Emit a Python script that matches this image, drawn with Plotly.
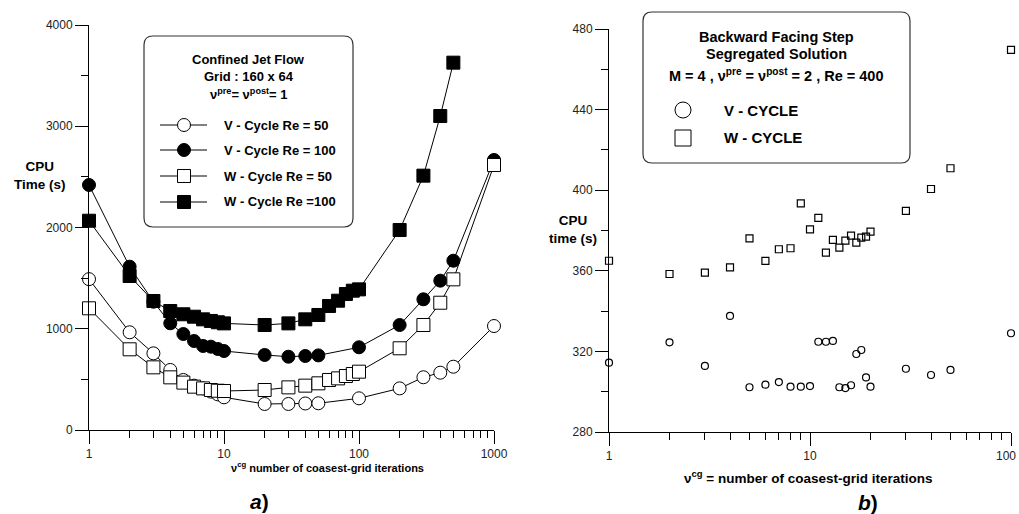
import plotly.graph_objects as go

W, H = 1019, 514
FONT = "Liberation Sans, Arial, sans-serif"

# ---------------- data: panel a) Confined Jet Flow ----------------
x_v = [1, 2, 3, 4, 5, 6, 7, 8, 9, 10, 20, 30, 40, 50, 100, 200, 300, 400, 500, 1000]
v_re50 = [1490, 965, 757, 593, 494, 438, 411, 379, 352, 323, 257, 257, 262, 264, 313, 411, 521, 566, 625, 1027]
v_re100 = [2420, 1613, 1267, 1054, 948, 879, 830, 823, 800, 780, 741, 724, 731, 737, 817, 1037, 1291, 1475, 1672, 2667]
x_w = [1, 2, 3, 4, 5, 6, 7, 8, 9, 10, 20, 30, 40, 50, 60, 70, 80, 90, 100, 200, 300, 400, 500, 1000]
w_re50 = [1202, 797, 619, 520, 468, 428, 411, 395, 388, 385, 395, 421, 438, 461, 494, 510, 533, 553, 576, 807, 1037, 1257, 1488, 2617]
x_w100 = [1, 2, 3, 4, 5, 6, 7, 8, 9, 10, 20, 30, 40, 50, 60, 70, 80, 90, 100, 200, 300, 400, 500]
w_re100 = [2067, 1521, 1274, 1175, 1143, 1119, 1093, 1077, 1064, 1053, 1037, 1053, 1093, 1136, 1225, 1277, 1343, 1376, 1389, 1975, 2512, 3101, 3628]

a_title = ["Confined Jet Flow", "Grid : 160 x 64", "ν<sup>pre</sup>= ν<sup>post</sup>= 1"]
a_labels = ["V - Cycle Re = 50", "V - Cycle Re = 100", "W - Cycle Re = 50", "W - Cycle Re =100"]
a_xticks = [1, 10, 100, 1000]
a_yticks = [0, 1000, 2000, 3000, 4000]

# ---------------- data: panel b) Backward Facing Step ----------------
x_b = [1, 2, 3, 4, 5, 6, 7, 8, 9, 10, 11, 12, 13, 14, 15, 16, 17, 18, 19, 20, 30, 40, 50, 100]
b_v = [314.4, 324.5, 312.8, 337.6, 302.2, 303.5, 304.8, 302.5, 302.5, 302.8, 324.8, 324.8, 325.2,
       302.2, 301.8, 303.2, 318.7, 320.7, 307.1, 302.5, 311.4, 308.3, 310.8, 329.0]
b_w = [365.0, 358.4, 359.1, 361.7, 376.1, 364.9, 370.7, 371.2, 393.5, 380.6, 386.3, 369.0, 375.3,
       371.5, 375.0, 377.5, 374.0, 376.5, 377.0, 379.4, 389.7, 400.6, 410.9, 469.6]

b_title = ["Backward Facing Step", "Segregated Solution",
           "M = 4 , ν<sup>pre</sup> = ν<sup>post</sup> = 2 , Re = 400"]
b_labels = ["V - CYCLE", "W - CYCLE"]
b_xticks = [1, 10, 100]
b_yticks = [280, 320, 360, 400, 440, 480]


def PX(x):
    return x / W


def PY(y):
    return 1 - y / H


fig = go.Figure()

line = dict(color="black", width=1)
fig.add_trace(go.Scatter(x=x_v, y=v_re50, mode="lines+markers", name=a_labels[0], line=line,
                         marker=dict(symbol="circle", size=13, color="white", line=dict(color="black", width=1)),
                         cliponaxis=False, xaxis="x", yaxis="y"))
fig.add_trace(go.Scatter(x=x_v, y=v_re100, mode="lines+markers", name=a_labels[1], line=line,
                         marker=dict(symbol="circle", size=13, color="black", line=dict(color="black", width=1)),
                         cliponaxis=False, xaxis="x", yaxis="y"))
fig.add_trace(go.Scatter(x=x_w, y=w_re50, mode="lines+markers", name=a_labels[2], line=line,
                         marker=dict(symbol="square", size=13, color="white", line=dict(color="black", width=1)),
                         cliponaxis=False, xaxis="x", yaxis="y"))
fig.add_trace(go.Scatter(x=x_w100, y=w_re100, mode="lines+markers", name=a_labels[3], line=line,
                         marker=dict(symbol="square", size=13, color="black", line=dict(color="black", width=1)),
                         cliponaxis=False, xaxis="x", yaxis="y"))

fig.add_trace(go.Scatter(x=x_b, y=b_v, mode="markers", name=b_labels[0],
                         marker=dict(symbol="circle-open", size=7, color="black", line=dict(color="black", width=1.2)),
                         cliponaxis=False, xaxis="x2", yaxis="y2"))
fig.add_trace(go.Scatter(x=x_b, y=b_w, mode="markers", name=b_labels[1],
                         marker=dict(symbol="square-open", size=7, color="black", line=dict(color="black", width=1.2)),
                         cliponaxis=False, xaxis="x2", yaxis="y2"))


def minor_log(lo, hi):
    vals = []
    d = lo
    while d < hi:
        vals += [d * k for k in range(2, 10)]
        d *= 10
    return vals


tickfont = dict(family=FONT, size=12, color="#222")
ax_common = dict(showline=True, linecolor="black", linewidth=1, ticks="outside", ticklen=13,
                 tickcolor="black", tickwidth=1, showgrid=False, zeroline=False, tickfont=tickfont,
                 automargin=False, ticklabeloverflow="allow")

# the last tick label of panel b sits at the page edge: it is drawn right-aligned to stay visible
b_xticktext = [str(v) for v in b_xticks[:-1]] + [""]

fig.update_layout(
    width=W, height=H, margin=dict(l=0, r=0, t=0, b=0, autoexpand=False),
    paper_bgcolor="white", plot_bgcolor="white", showlegend=False,
    xaxis=dict(type="log", range=[0, 3], domain=[PX(89), PX(494)], anchor="y",
               tickvals=a_xticks, ticktext=[str(v) for v in a_xticks],
               minor=dict(tickvals=minor_log(1, 1000), ticks="outside", ticklen=7, tickcolor="black"),
               **ax_common),
    yaxis=dict(range=[0, 4000], domain=[PY(430), PY(25)], anchor="x",
               tickvals=a_yticks,
               minor=dict(dtick=500, ticks="outside", ticklen=7, tickcolor="black"),
               **ax_common),
    xaxis2=dict(type="log", range=[0, 2], domain=[PX(609), PX(1011)], anchor="y2",
                tickvals=b_xticks, ticktext=b_xticktext,
                minor=dict(tickvals=minor_log(1, 100), ticks="outside", ticklen=7, tickcolor="black"),
                **ax_common),
    yaxis2=dict(range=[280, 480], domain=[PY(432), PY(29)], anchor="x2",
                tickvals=b_yticks,
                minor=dict(dtick=20, ticks="outside", ticklen=7, tickcolor="black"),
                **ax_common),
)

shapes = []
annotations = []


def rrect(x0, y0, x1, y1, r):
    pts = [("M", x0 + r, y0), ("L", x1 - r, y0), ("Q", x1, y0, x1, y0 + r), ("L", x1, y1 - r),
           ("Q", x1, y1, x1 - r, y1), ("L", x0 + r, y1), ("Q", x0, y1, x0, y1 - r), ("L", x0, y0 + r),
           ("Q", x0, y0, x0 + r, y0)]
    s = ""
    for p in pts:
        cmd = p[0]
        coords = p[1:]
        parts = []
        for i in range(0, len(coords), 2):
            parts.append(f"{PX(coords[i]):.5f},{PY(coords[i + 1]):.5f}")
        s += cmd + " " + " ".join(parts) + " "
    return s + "Z"


def text(x, y, t, size, bold=True, anchor="center", color="black"):
    annotations.append(dict(xref="paper", yref="paper", x=PX(x), y=PY(y), text=(f"<b>{t}</b>" if bold else t),
                            showarrow=False, xanchor=anchor, yanchor="middle",
                            font=dict(family=FONT, size=size, color=color)))


def marker_shape(cx, cy, d, kind, filled):
    r = d / 2
    shapes.append(dict(type="circle" if kind == "circle" else "rect", xref="paper", yref="paper",
                       x0=PX(cx - r), x1=PX(cx + r), y0=PY(cy + r), y1=PY(cy - r),
                       line=dict(color="black", width=1), fillcolor="black" if filled else "white"))


# legend box a)
shapes.append(dict(type="path", xref="paper", yref="paper", path=rrect(144, 36, 353, 227, 9),
                   line=dict(color="#333", width=1.2), fillcolor="white", layer="above"))
for i, t in enumerate(a_title):
    text(248.5, [59, 76, 94][i], t, 13)
rows_a = [125, 150, 176, 202]
kinds = [("circle", False), ("circle", True), ("square", False), ("square", True)]
for i, lab in enumerate(a_labels):
    y = rows_a[i]
    shapes.append(dict(type="line", xref="paper", yref="paper", x0=PX(160), x1=PX(207), y0=PY(y), y1=PY(y),
                       line=dict(color="black", width=1), layer="above"))
    text(222, y, lab, 13, anchor="left")
for i, (k, f) in enumerate(kinds):
    marker_shape(184, rows_a[i], 13, k, f)

# legend box b)
shapes.append(dict(type="path", xref="paper", yref="paper", path=rrect(643, 12, 910, 163, 9),
                   line=dict(color="#333", width=1.2), fillcolor="white", layer="above"))
for i, t in enumerate(b_title):
    text(776.5, [37, 54, 75][i], t, 14.5)
text(722, 110, b_labels[0], 15, anchor="left")
text(722, 138, b_labels[1], 15, anchor="left")
marker_shape(683, 110, 16, "circle", False)
marker_shape(683, 138, 16, "square", False)

# last x tick label of panel b, kept inside the page
annotations.append(dict(xref="paper", yref="paper", x=PX(1018), y=PY(456), text=str(b_xticks[-1]),
                        showarrow=False, xanchor="right", yanchor="middle",
                        font=tickfont))

# axis titles
text(40, 175, "CPU<br>Time (s)", 13.5)
text(573, 230, "CPU<br>time (s)", 13.5)
text(327, 467, "ν<sup>cg</sup> number of coasest-grid iterations", 11)
text(808, 477, "ν<sup>cg</sup> = number of coasest-grid iterations", 13.5)
text(259, 501, "<i>a</i>)", 21)
text(868, 502, "<i>b</i>)", 21)

fig.update_layout(shapes=shapes, annotations=annotations)
fig.write_html("out.html")
